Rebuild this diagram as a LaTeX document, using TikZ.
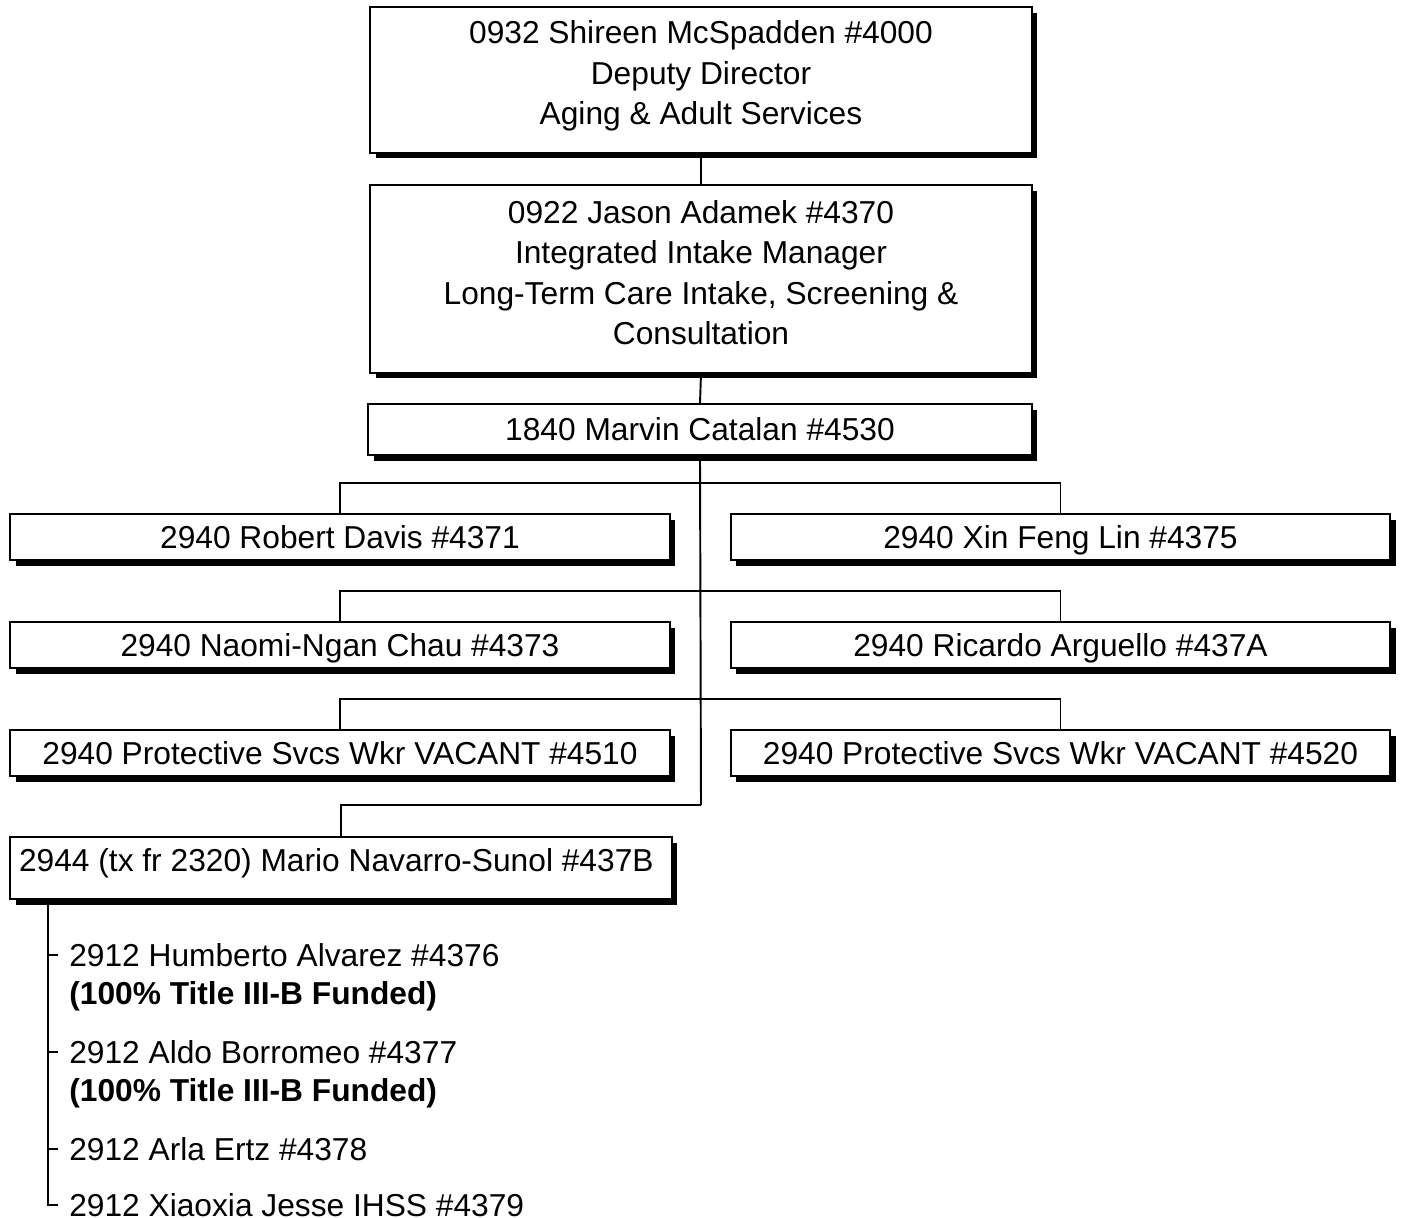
\documentclass[tikz,border=0pt]{standalone}
\usepackage{fontspec}
\setmainfont{Liberation Sans}
\usetikzlibrary{shadows}

\newcommand{\orgsize}{\fontsize{18.05}{23.0}\selectfont}

\tikzset{
  post/.style={draw, line width=1.2pt, fill=white, inner sep=0pt, align=center, font=\orgsize,
    drop shadow={shadow xshift=0.11cm, shadow yshift=-0.11cm, fill=black, opacity=1}},
  oneline/.style={post, text height=0.45cm, text depth=0cm},
  wide/.style={oneline, minimum width=13.2cm, minimum height=0.92cm},
  link/.style={line width=1.1pt},
  staff/.style={anchor=west, inner xsep=0.22cm, inner ysep=0pt, font=\orgsize},
}

\begin{document}
\begin{tikzpicture}[x=0.02cm, y=-0.02cm]
\useasboundingbox (0,0) rectangle (1401,1218);
% top of the chart
\node[post, minimum width=13.24cm, minimum height=2.92cm, text depth=0.29cm] (dir) at (701,80)
  {0932 Shireen McSpadden \#4000\\Deputy Director\\Aging \& Adult Services};
\node[post, minimum width=13.24cm, minimum height=3.76cm, text depth=0.26cm] (mgr) at (701,279)
  {0922 Jason Adamek \#4370\\Integrated Intake Manager\\Long-Term Care Intake, Screening \&\\Consultation};
\node[oneline, minimum width=13.28cm, minimum height=1.02cm] (mc) at (700,429.5) {1840 Marvin Catalan \#4530};
\draw[link] (dir.south) -- (mgr.north);
\draw[link] (mgr.south) -- (mc.north);

% workers, two per row
\node[wide] (rd) at (340,537) {2940 Robert Davis \#4371};
\node[wide] (xf) at (1060.5,537) {2940 Xin Feng Lin \#4375};
\node[wide] (nc) at (340,645) {2940 Naomi-Ngan Chau \#4373};
\node[wide] (ra) at (1060.5,645) {2940 Ricardo Arguello \#437A};
\node[wide] (va) at (340,753) {2940 Protective Svcs Wkr VACANT \#4510};
\node[wide] (vb) at (1060.5,753) {2940 Protective Svcs Wkr VACANT \#4520};
\node[post, inner xsep=0.18cm, text height=0.69cm, text depth=0.55cm] (mns) at (341,868)
  {\makebox[12.88cm][l]{2944 (tx fr 2320) Mario Navarro-Sunol \#437B}};

\coordinate (j1) at (701,483);
\coordinate (j2) at (701,591);
\coordinate (j3) at (701,699);
\coordinate (j4) at (701,805);
\draw[link] (mc.south) -- (j4);
\draw[link] (rd.north) |- (j1) -| (xf.north);
\draw[link] (nc.north) |- (j2) -| (ra.north);
\draw[link] (va.north) |- (j3) -| (vb.north);
\draw[link] (mns.north) |- (j4);

% staff under 2944
\coordinate (stem) at (48,899);
\node[staff] (ha) at (58,955) {2912 Humberto Alvarez \#4376};
\node[staff, font=\orgsize\bfseries] (haf) at (58,996) {(100\% Title III-B Funded)};
\node[staff] (ab) at (58,1052) {2912 Aldo Borromeo \#4377};
\node[staff, font=\orgsize\bfseries] (abf) at (58,1093) {(100\% Title III-B Funded)};
\node[staff] (ae) at (58,1149) {2912 Arla Ertz \#4378};
\node[staff] (xj) at (58,1205) {2912 Xiaoxia Jesse IHSS \#4379};
\draw[link] (stem) |- (ha.west);
\draw[link] (stem) |- (ab.west);
\draw[link] (stem) |- (ae.west);
\draw[link] (stem) |- (xj.west);
\end{tikzpicture}
\end{document}
